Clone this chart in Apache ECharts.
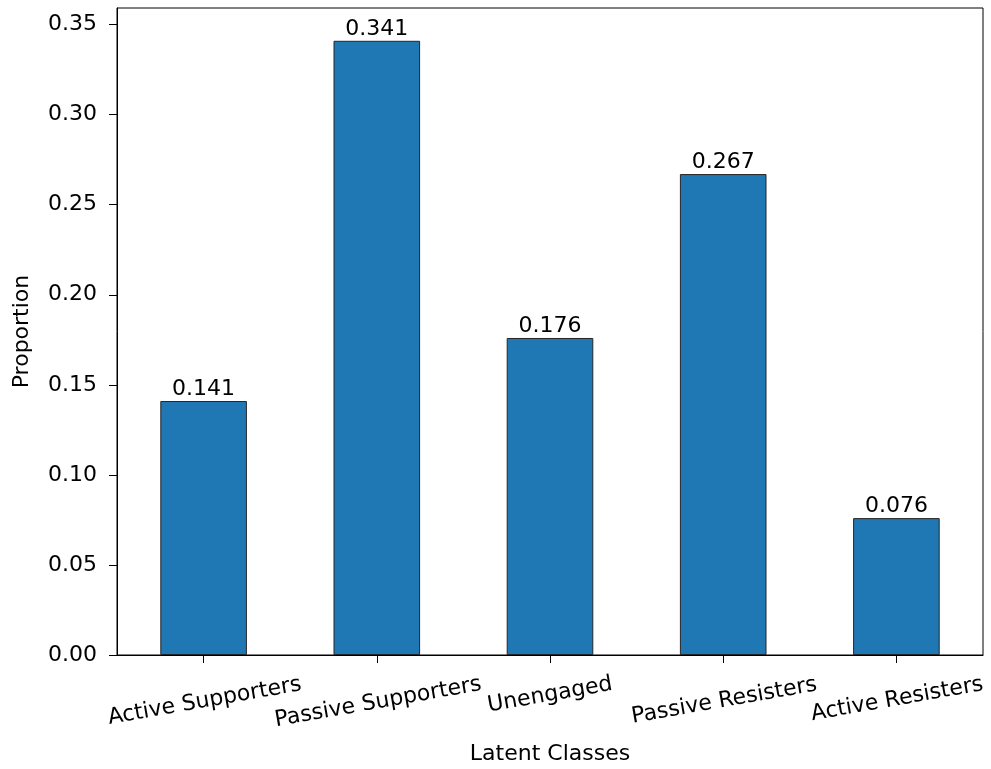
<!DOCTYPE html>
<html>
<head>
<meta charset="utf-8">
<script src="https://cdn.jsdelivr.net/npm/echarts@6/dist/echarts.min.js"></script>
<style>html,body{margin:0;padding:0;background:#fff;}#c{width:991px;height:769px;}</style>
</head>
<body>
<div id="c"></div>
<script>
var categories = ['Active Supporters', 'Passive Supporters', 'Unengaged', 'Passive Resisters', 'Active Resisters'];
var proportions = [0.141, 0.341, 0.176, 0.267, 0.076];
var yTicks = [0, 0.05, 0.10, 0.15, 0.20, 0.25, 0.30, 0.35];
var labelShift = [13, 15, 0, 12, 9];

var FONT = 'DejaVu Sans';
var FS = 22;
var rich = {};
categories.forEach(function (c, i) {
  rich['l' + i] = { fontFamily: FONT, fontSize: FS, color: '#000', padding: [labelShift[i], 0, 0, 0] };
});

var chart = echarts.init(document.getElementById('c'), null, { renderer: 'canvas' });
chart.setOption({
  animation: false,
  backgroundColor: '#fff',
  grid: {
    left: 117, right: 8, top: 8, bottom: 114,
    containLabel: false, outerBoundsMode: 'none',
    show: true, borderColor: '#000', borderWidth: 1, backgroundColor: 'transparent'
  },
  xAxis: {
    type: 'category',
    data: categories,
    boundaryGap: true,
    name: 'Latent Classes',
    nameLocation: 'middle',
    nameGap: 88,
    nameTextStyle: { fontFamily: FONT, fontSize: FS, color: '#000' },
    axisLine: { lineStyle: { color: '#000', width: 1 } },
    axisTick: { show: true, alignWithLabel: true, length: 8, lineStyle: { color: '#000' } },
    axisLabel: {
      interval: 0,
      rotate: 10,
      margin: 40,
      align: 'center',
      verticalAlign: 'middle',
      hideOverlap: false,
      fontFamily: FONT, fontSize: FS, color: '#000',
      formatter: function (v) { return '{l' + categories.indexOf(v) + '|' + v + '}'; },
      rich: rich
    },
    splitLine: { show: false }
  },
  yAxis: {
    type: 'value',
    min: yTicks[0],
    max: 0.3592,
    interval: 0.05,
    name: 'Proportion',
    nameLocation: 'middle',
    nameGap: 84,
    nameRotate: 90,
    nameTextStyle: { fontFamily: FONT, fontSize: FS, color: '#000' },
    axisLine: { show: true, lineStyle: { color: '#000', width: 1 } },
    axisTick: { show: true, length: 8, lineStyle: { color: '#000' } },
    axisLabel: {
      margin: 20, fontFamily: FONT, fontSize: FS, color: '#000', showMaxLabel: false,
      formatter: function (v) { return yTicks.some(function (t) { return Math.abs(t - v) < 1e-9; }) ? v.toFixed(2) : ''; }
    },
    splitLine: { show: false }
  },
  series: [{
    type: 'bar',
    data: proportions,
    barWidth: '50%',
    itemStyle: { color: '#1f77b4', borderColor: '#262626', borderWidth: 1 },
    label: {
      show: true, position: 'top', distance: 1,
      fontFamily: FONT, fontSize: FS, color: '#000',
      formatter: function (p) { return p.value.toFixed(3); }
    }
  }]
});
</script>
</body>
</html>
